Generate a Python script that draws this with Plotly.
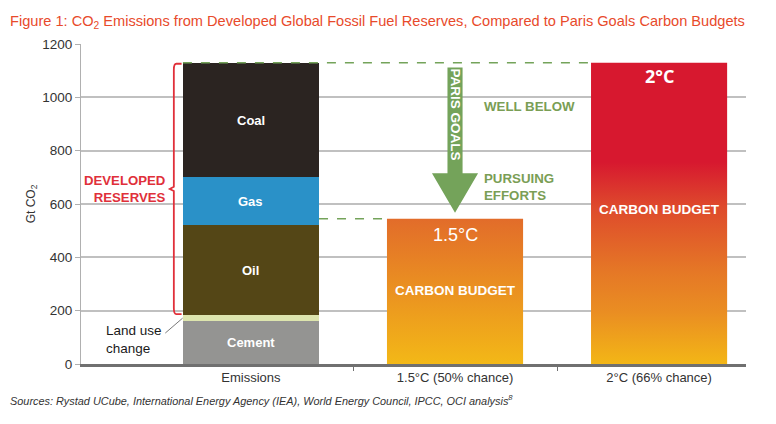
import plotly.graph_objects as go

# emissions from developed reserves, Gt CO2 (stacked bottom -> top)
sources = ['Cement', 'Land use change', 'Oil', 'Gas', 'Coal']
source_vals = [160, 25, 335, 180, 428]
source_colors = ['#949492', '#DDE5AE', '#544616', '#2A91C8', '#2B2421']

categories = ['Emissions', '1.5°C (50% chance)', '2°C (66% chance)']
budget_names = ['1.5°C', '2°C']
budget_vals = [545, 1130]

BAR_W = 0.667
FONT = 'Liberation Sans, Arial, sans-serif'
GREEN = '#74A35A'
TEXT_GREEN = '#7A9E55'
RED = '#E0303A'

fig = go.Figure()

# stacked emissions bar
for name, val, col in zip(sources, source_vals, source_colors):
    fig.add_trace(go.Bar(x=[0], y=[val], name=name, width=BAR_W,
                         marker=dict(color=col, line=dict(width=0)),
                         hoverinfo='name+y'))

# carbon budget bars with vertical gradients
gradients = [
    [[0, '#F3B817'], [1, '#E26C2A']],
    [[0, '#F3B616'], [0.17, '#EA8E22'], [0.31, '#E57726'], [0.52, '#DE4A2C'],
     [0.67, '#D7182F'], [1, '#D7182F']],
]
for i, (name, val) in enumerate(zip(budget_names, budget_vals)):
    c = i + 1
    fig.add_trace(go.Scatter(
        x=[c - BAR_W / 2, c + BAR_W / 2, c + BAR_W / 2, c - BAR_W / 2, c - BAR_W / 2],
        y=[0, 0, val, val, 0],
        mode='lines', line=dict(width=0), fill='toself',
        fillgradient=dict(type='vertical', colorscale=gradients[i]),
        name=name + ' carbon budget', hoverinfo='name'))

total = sum(source_vals)

# labels inside the emissions stack
cum = 0
for name, val in zip(sources, source_vals):
    if name != 'Land use change':
        fig.add_annotation(x=0, y=cum + val / 2, text='<b>%s</b>' % name,
                           showarrow=False, font=dict(color='white', size=13))
    cum += val

fig.add_annotation(x=-0.72, y=92, text='Land use<br>change', showarrow=False, align='left',
                   xanchor='left', font=dict(color='#1a1a1a', size=13.5))
fig.add_shape(type='line', x0=-0.42, y0=116, x1=-0.335, y1=172,
              line=dict(color='#555', width=0.8))

# bracket for developed reserves
lo = source_vals[0] + source_vals[1]
mid = (lo + total) / 2
bx = -0.378
fig.add_shape(type='path', line=dict(color=RED, width=1.8),
              path=(f'M -0.34 {total - 2} L {bx + 0.012} {total - 2} '
                    f'Q {bx} {total - 2} {bx} {total - 25} L {bx} {mid + 8} '
                    f'L {bx - 0.02} {mid} L {bx} {mid - 8} L {bx} {lo + 25} '
                    f'Q {bx} {lo + 2} {bx + 0.012} {lo + 2} L -0.34 {lo + 2}'))
fig.add_annotation(x=-0.405, y=mid, text='<b>DEVELOPED<br>RESERVES</b>', showarrow=False,
                   xanchor='right', align='right', font=dict(color=RED, size=13.2))

# dashed reference lines
fig.add_shape(type='line', x0=-BAR_W / 2, x1=2 - BAR_W / 2, y0=budget_vals[1], y1=budget_vals[1],
              line=dict(color=GREEN, width=1.5, dash='dash'))
fig.add_shape(type='line', x0=BAR_W / 2, x1=1 - BAR_W / 2, y0=budget_vals[0], y1=budget_vals[0],
              line=dict(color=GREEN, width=1.5, dash='dash'))

# Paris goals arrow
sw, hw = 0.037, 0.113
top, neck, tip = 1112, 715, 567
fig.add_shape(type='path', fillcolor=GREEN, line=dict(width=0),
              path=(f'M {1 - sw} {top} L {1 + sw} {top} L {1 + sw} {neck} L {1 + hw} {neck} '
                    f'L 1 {tip} L {1 - hw} {neck} L {1 - sw} {neck} Z'))
fig.add_annotation(x=1, y=(top + neck) / 2 + 22, text='<b>PARIS GOALS</b>', textangle=90,
                   showarrow=False, font=dict(color='white', size=13.5))
fig.add_annotation(x=1.13, y=965, text='<b>WELL BELOW</b>', showarrow=False, xanchor='left',
                   font=dict(color=TEXT_GREEN, size=13.3))
fig.add_annotation(x=1.13, y=665, text='<b>PURSUING<br>EFFORTS</b>', showarrow=False,
                   xanchor='left', align='left', font=dict(color=TEXT_GREEN, size=13.3))

# budget bar labels
fig.add_annotation(x=1, y=budget_vals[0] - 60, text='1.5°C', showarrow=False,
                   font=dict(color='white', size=18))
fig.add_annotation(x=1, y=277, text='<b>CARBON BUDGET</b>', showarrow=False,
                   font=dict(color='white', size=13.5))
fig.add_annotation(x=2, y=budget_vals[1] - 50, text='<b>2°C</b>', showarrow=False,
                   font=dict(color='white', size=18, family='Open Sans, sans-serif'))
fig.add_annotation(x=2, y=580, text='<b>CARBON BUDGET</b>', showarrow=False,
                   font=dict(color='white', size=13.5))

# title and source
fig.add_annotation(xref='paper', yref='paper', x=-0.11, y=1.069, xanchor='left',
                   yanchor='middle',
                   text='Figure 1: CO<sub>2</sub> Emissions from Developed Global Fossil Fuel '
                        'Reserves, Compared to Paris Goals Carbon Budgets',
                   showarrow=False, font=dict(color='#E84A2B', size=14.6))
fig.add_annotation(xref='paper', yref='paper', x=-0.11, y=-0.112, xanchor='left',
                   yanchor='middle',
                   text='<i>Sources: Rystad UCube, International Energy Agency (IEA), World Energy '
                        'Council, IPCC, OCI analysis<sup>8</sup></i>',
                   showarrow=False, font=dict(color='#333', size=10.9))

fig.update_layout(
    width=776, height=424, barmode='stack', showlegend=False,
    margin=dict(l=73, r=38, t=36, b=68),
    paper_bgcolor='white', plot_bgcolor='white',
    font=dict(family=FONT, color='#333', size=13),
    xaxis=dict(range=[-0.833, 2.426], tickvals=[0, 1, 2], ticktext=categories,
               showgrid=False, zeroline=False, showline=True, linecolor='#707070',
               linewidth=2.5, ticks='', tickfont=dict(size=13, color='#333'),
               minor=dict(tickvals=[0.5, 1.5], ticks='outside', ticklen=4,
                          tickcolor='#707070', showgrid=False)),
    yaxis=dict(range=[0, 1200], dtick=200, showgrid=True, gridcolor='#C0C0C0',
               gridwidth=1.5, zeroline=False, showline=True, linecolor='#B0B0B0',
               linewidth=1, ticks='outside', ticklen=5, tickcolor='#B0B0B0',
               tickfont=dict(size=13.5, color='#333'),
               title=dict(text='Gt CO<sub>2</sub>', font=dict(size=12, color='#333'),
                          standoff=4)),
)

fig.write_html('out.html')
